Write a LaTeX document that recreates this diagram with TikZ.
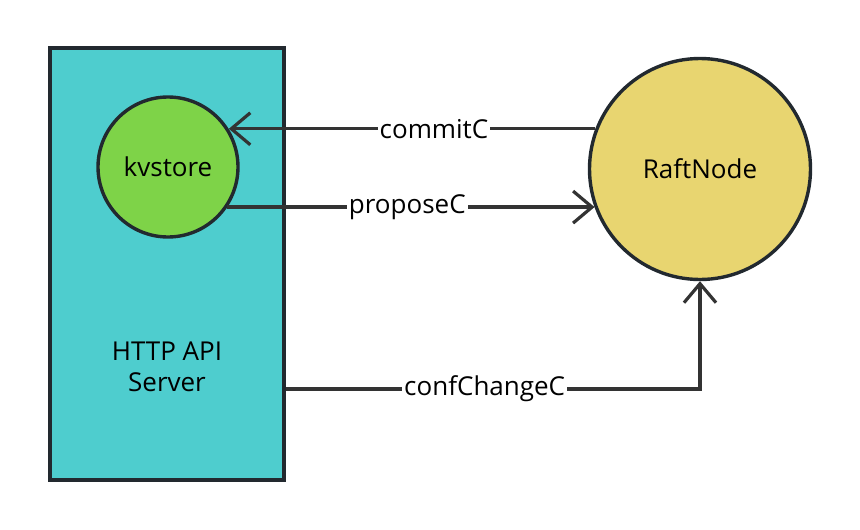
\documentclass[tikz,border=0pt]{standalone}
\usepackage{fontspec}
\setmainfont{Open Sans}
\usetikzlibrary{arrows.meta}
\definecolor{cyanfill}{HTML}{4ECDCE}
\definecolor{greenfill}{HTML}{7ED348}
\definecolor{yellowfill}{HTML}{E8D570}
\definecolor{borderc}{HTML}{22292F}
\definecolor{arrowc}{HTML}{333333}
\begin{document}
\begin{tikzpicture}[x=1pt,y=-1pt,
  txt/.style={font=\fontsize{26}{31}\selectfont, text=black},
  conn/.style={draw=arrowc, line width=3.2pt, -{Straight Barb[length=19pt,width=32pt]}},
  lbl/.style={fill=white, inner sep=2pt, font=\fontsize{26}{31}\selectfont, text=black}]
\useasboundingbox (0,0) rectangle (860,530);
\node[draw=borderc, line width=3.8pt, fill=cyanfill, minimum width=234pt, minimum height=432pt, inner sep=0pt] (srv) at (167,264) {};
\node[txt, align=center] (srvtxt) at (167,367) {HTTP API\\Server};
\node[circle, draw=borderc, line width=3.4pt, fill=greenfill, minimum size=140pt, inner sep=0pt, txt] (kv) at (168,167) {kvstore};
\node[circle, draw=borderc, line width=3.4pt, fill=yellowfill, minimum size=221pt, inner sep=0pt, txt] (raft) at (700,169) {RaftNode};
\draw[conn] (raft.159) -- node[lbl, pos=0.44] {commitC} (raft.159 -| kv.32);
\draw[conn] (kv.-34) -- node[lbl, pos=0.49] {proposeC} (kv.-34 -| raft.200);
\draw[conn] ([yshift=-125pt]srv.east) -| node[lbl, pos=0.24] {confChangeC} (raft.south);
\end{tikzpicture}
\end{document}
